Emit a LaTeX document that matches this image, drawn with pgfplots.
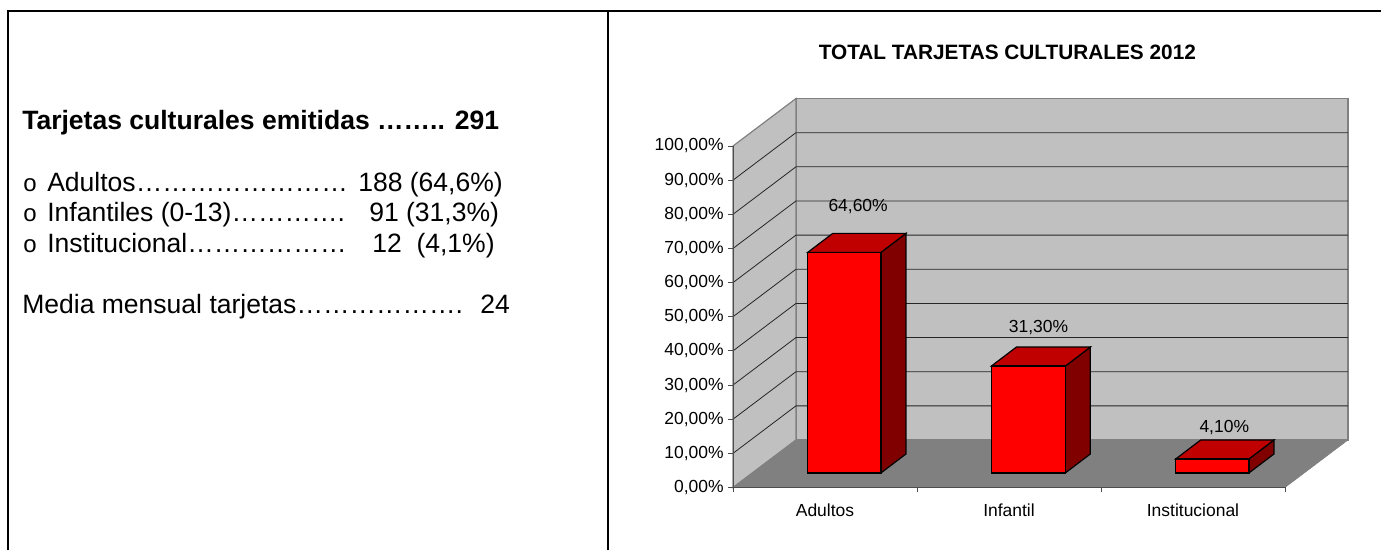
\documentclass[border=0pt]{standalone}
\usepackage{fontspec}
\setmainfont{Liberation Sans}
\usepackage{pgfplots}
\pgfplotsset{compat=1.18}
\definecolor{wallgray}{HTML}{C0C0C0}
\definecolor{floorgray}{HTML}{808080}
\definecolor{topred}{HTML}{C00000}
\definecolor{sidered}{HTML}{800000}
\newcommand{\lt}[3]{\node[anchor=base west,inner sep=0pt,font=\fontsize{#3}{#3}\selectfont] at (#1*0.75pt,-#2*0.75pt)}
\begin{document}
\begin{tikzpicture}
\path[use as bounding box] (0,0) rectangle (1035.75pt,-412.5pt);
% frame
\draw[black,line width=1.6pt] (6pt,-412.5pt) -- (6pt,-8.25pt) -- (1035.75pt,-8.25pt);
\draw[black,line width=1.6pt] (456.2pt,-412.5pt) -- (456.2pt,-8.25pt);
% left text
\lt{22}{129}{19.9}{\bfseries Tarjetas culturales emitidas …….. 291};
\lt{23}{191.5}{18}{o};
\lt{47}{191.5}{19.9}{Adultos……………………};
\lt{358}{191.5}{19.9}{188 (64,6\%)};
\lt{23}{221.5}{18}{o};
\lt{47}{221.5}{19.9}{Infantiles (0-13)………….};
\lt{369}{221.5}{19.9}{91 (31,3\%)};
\lt{23}{252}{18}{o};
\lt{47}{252}{19.9}{Institucional………………};
\lt{372}{252}{19.9}{12 \ (4,1\%)};
\lt{22}{313.5}{19.9}{Media mensual tarjetas………………. \ 24};
% chart
\begin{axis}[
  at={(549.75pt,-365.6pt)},anchor=origin,
  scale only axis,width=414pt,height=256.1pt,
  xmin=0,xmax=3,ymin=0,ymax=100,
  clip=false,axis on top,
  axis x line*=bottom,axis y line*=left,
  axis line style={-,draw=black!70,line width=0.75pt},
  tick style={draw=black!70,line width=0.75pt},
  tick align=outside,major tick length=3.5pt,
  xtick={0,1,2,3},x tick label as interval,
  xticklabels={Adultos,Infantil,Institucional},
  ytick={0,10,...,100},
  yticklabel={\pgfmathprintnumber[fixed,fixed zerofill,precision=2,use comma,assume math mode=true]{\tick}\%},
  tick label style={font=\fontsize{13.1}{13.1}\selectfont},
  xticklabel style={yshift=-5.5pt},
  title={}]
% walls and floor
\addplot[fill=wallgray,draw=floorgray,line width=0.9pt] coordinates {(0.342,13.9)(3.342,13.9)(3.342,113.9)(0.342,113.9)} --cycle;
\addplot[fill=wallgray,draw=floorgray,line width=0.9pt] coordinates {(0,0)(0.342,13.9)(0.342,113.9)(0,100)} --cycle;
\addplot[fill=floorgray,draw=floorgray] coordinates {(0,0)(3,0)(3.342,13.9)(0.342,13.9)} --cycle;
% grid
\addplot[black!85,line width=0.6pt] coordinates {(0,10)(0.342,23.9)(3.342,23.9)};
\addplot[black!85,line width=0.6pt] coordinates {(0,20)(0.342,33.9)(3.342,33.9)};
\addplot[black!85,line width=0.6pt] coordinates {(0,30)(0.342,43.9)(3.342,43.9)};
\addplot[black!85,line width=0.6pt] coordinates {(0,40)(0.342,53.9)(3.342,53.9)};
\addplot[black!85,line width=0.6pt] coordinates {(0,50)(0.342,63.9)(3.342,63.9)};
\addplot[black!85,line width=0.6pt] coordinates {(0,60)(0.342,73.9)(3.342,73.9)};
\addplot[black!85,line width=0.6pt] coordinates {(0,70)(0.342,83.9)(3.342,83.9)};
\addplot[black!85,line width=0.6pt] coordinates {(0,80)(0.342,93.9)(3.342,93.9)};
\addplot[black!85,line width=0.6pt] coordinates {(0,90)(0.342,103.9)(3.342,103.9)};
% Adultos 64.6
\addplot[fill=sidered,draw=black,line width=0.9pt] coordinates {(0.804,4.25)(0.940,9.81)(0.940,74.41)(0.804,68.85)} --cycle;
\addplot[fill=topred,draw=black,line width=0.9pt] coordinates {(0.406,68.85)(0.804,68.85)(0.940,74.41)(0.542,74.41)} --cycle;
\addplot[fill=red,draw=black,line width=0.9pt] coordinates {(0.406,4.25)(0.804,4.25)(0.804,68.85)(0.406,68.85)} --cycle;
% Infantil 31.3
\addplot[fill=sidered,draw=black,line width=0.9pt] coordinates {(1.806,4.25)(1.942,9.81)(1.942,41.11)(1.806,35.55)} --cycle;
\addplot[fill=topred,draw=black,line width=0.9pt] coordinates {(1.404,35.55)(1.806,35.55)(1.942,41.11)(1.540,41.11)} --cycle;
\addplot[fill=red,draw=black,line width=0.9pt] coordinates {(1.404,4.25)(1.806,4.25)(1.806,35.55)(1.404,35.55)} --cycle;
% Institucional 4.1
\addplot[fill=sidered,draw=black,line width=0.9pt] coordinates {(2.804,4.25)(2.940,9.81)(2.940,13.91)(2.804,8.35)} --cycle;
\addplot[fill=topred,draw=black,line width=0.9pt] coordinates {(2.406,8.35)(2.804,8.35)(2.940,13.91)(2.542,13.91)} --cycle;
\addplot[fill=red,draw=black,line width=0.9pt] coordinates {(2.406,4.25)(2.804,4.25)(2.804,8.35)(2.406,8.35)} --cycle;
% value labels
\addplot[draw=none,nodes near coords,point meta=explicit symbolic,
  nodes near coords style={anchor=center,font=\fontsize{13.1}{13.1}\selectfont,inner sep=0pt}]
  coordinates {(0.68,82.3)[64,60\%] (1.66,46.9)[31,30\%] (2.67,17.7)[4,10\%]};
\end{axis}
\node[font=\bfseries\fontsize{15.6}{15.6}\selectfont,anchor=center] at (755.5pt,-39.5pt) {TOTAL TARJETAS CULTURALES 2012};
\end{tikzpicture}
\end{document}
